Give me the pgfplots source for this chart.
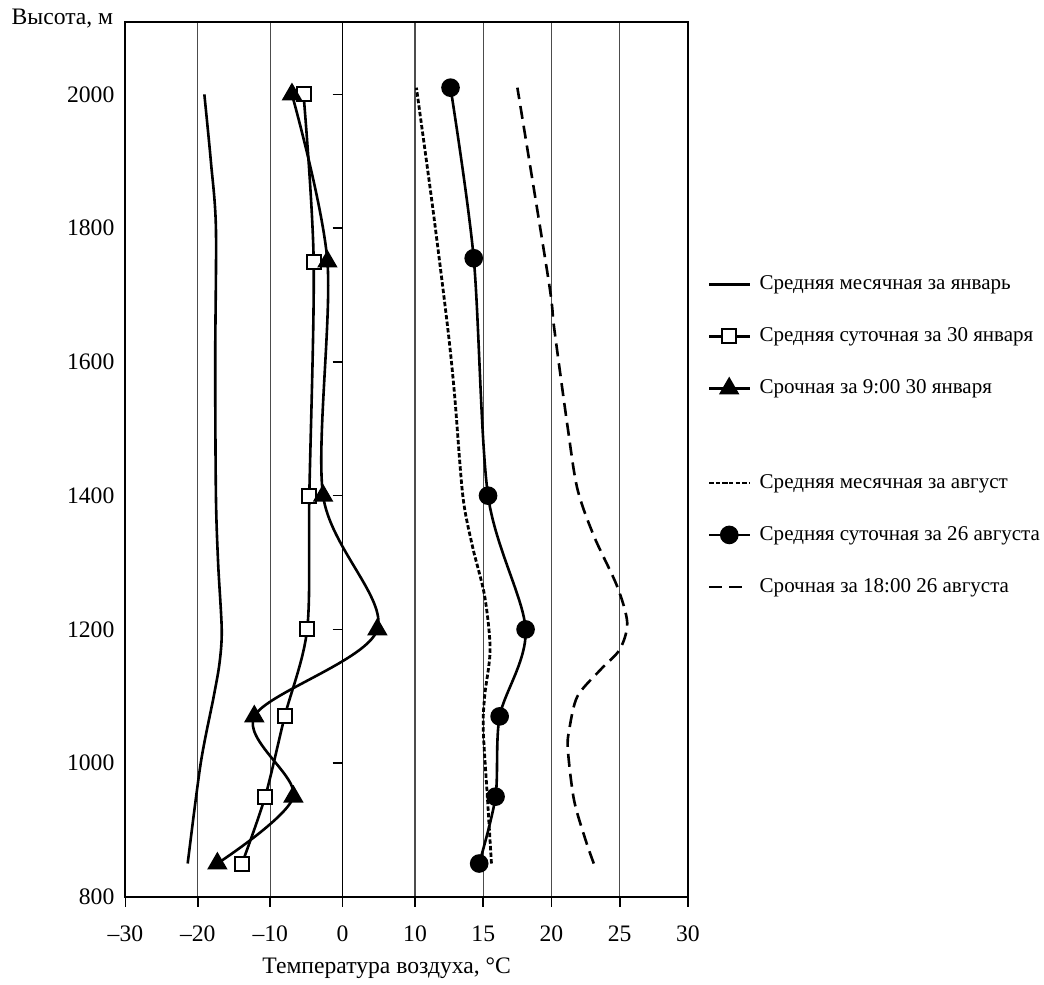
\documentclass[border=0pt]{standalone}
\usepackage{fontspec}
\setmainfont{Liberation Serif}
\usepackage{pgfplots}
\pgfplotsset{compat=1.18}
\usepackage{pgfplotstable}

% январь (шкала 10 градусов на деление)
\pgfplotstableread{
t h
-21.4 850
-19.6 1000
-17.8 1100
-17.0 1150
-16.7 1200
-17.2 1300
-17.5 1400
-17.6 1600
-17.5 1800
-18.2 1900
-19.1 2000
}\janmean
\pgfplotstableread{
t h
-13.9 850
-10.7 950
-8.0 1070
-4.9 1200
-4.6 1400
-4.0 1750
-5.4 2000
}\janday
\pgfplotstableread{
t h
-17.3 850
-6.8 950
-12.2 1070
4.8 1200
-2.7 1400
-2.1 1750
-7.0 2000
}\janterm
% август (шкала 5 градусов на деление)
\pgfplotstableread{
t h
15.6 850
15.3 950
15.0 1050
15.1 1100
15.5 1170
15.1 1250
14.2 1325
13.5 1400
12.9 1550
12.4 1650
11.3 1830
10.1 2010
}\augmean
\pgfplotstableread{
t h
14.7 850
15.9 950
16.2 1070
18.1 1200
15.35 1400
14.3 1755
12.6 2010
}\augday
\pgfplotstableread{
t h
23.1 850
22.5 885
21.65 945
21.2 1020
21.3 1050
21.9 1100
23.6 1140
25.0 1170
25.55 1210
24.8 1265
23.1 1340
21.9 1410
21.2 1500
20.2 1650
19.8 1720
17.5 2010
}\augterm

\newcommand{\fs}{\fontsize{11.8pt}{14pt}\selectfont}
\newcommand{\fl}{\fontsize{10.5pt}{12.5pt}\selectfont}

\pgfplotsset{
  common/.style={
    scale only axis, width=281pt, height=437pt,
    xmin=-30, xmax=47.692, ymin=800, ymax=2108,
    legend cell align=left,
    legend style={draw=none, fill=none, font=\fl, row sep=13.5pt, inner xsep=0pt,
      /tikz/every odd column/.append style={column sep=2.5pt}},
    legend image code/.code={\draw[mark repeat=2,mark phase=2]
      plot coordinates {(0pt,0pt) (10pt,0pt) (20pt,0pt)};},
  },
}

\begin{document}
\begin{tikzpicture}
\begin{axis}[common,
  xtick={-30,-20,-10,0,10,19.423,28.846,38.269,47.692},
  xticklabels={–30,–20,–10,0,10,15,20,25,30},
  ytick={800,1000,...,2000},
  /pgf/number format/1000 sep={},
  /pgf/number format/assume math mode=true,
  tick label style={font=\fs},
  xticklabel style={yshift=-6pt},
  yticklabel style={xshift=3pt},
  xmajorgrids, grid style={black!70, line width=0.6pt},
  tick align=outside, xtick pos=bottom, ytick pos=left,
  major tick length=5pt,
  y tick style={draw=none},
  x tick style={black, line width=0.8pt},
  axis line style={line width=1pt},
  xlabel={Температура воздуха, °C},
  every axis x label/.style={at={(rel axis cs:0.4644,0)}, anchor=base, yshift=-38pt, font=\fs},
  ylabel={Высота, м},
  every axis y label/.style={at={(rel axis cs:0,1)}, anchor=base east, xshift=-2.6pt, yshift=-1pt, font=\fs},
  legend style={at={(rel axis cs:1.0347,0.6407)}, anchor=west},
]
\addplot[black, line width=1.3pt, smooth] table[x=t, y=h] {\janmean};
\addlegendentry{Средняя месячная за январь}
\addplot[black, line width=1.3pt, smooth, mark=square*, mark size=3.5pt,
  mark options={fill=white, line width=1pt}] table[x=t, y=h] {\janday};
\addlegendentry{Средняя суточная за 30 января}
\addplot[black, line width=1.3pt, smooth, mark=triangle*, mark size=4.6pt,
  mark options={fill=black}] table[x=t, y=h] {\janterm};
\addlegendentry{Срочная за 9:00 30 января}
\end{axis}

\begin{axis}[common,
  axis x line=none, axis y line=middle,
  ytick={1000,1200,...,2000}, yticklabels={},
  tick align=outside, major tick length=5pt,
  y axis line style={-, line width=0.8pt},
  ytick style={black, line width=0.8pt},
  legend style={at={(rel axis cs:1.0347,0.4138)}, anchor=west},
]
\addplot[black, line width=1.4pt, smooth, dash pattern=on 2.2pt off 1.1pt]
  table[x expr=10+(\thisrow{t}-10)*1.8846, y=h] {\augmean};
\addlegendentry{Средняя месячная за август}
\addplot[black, line width=1.3pt, smooth, mark=*, mark size=4pt]
  table[x expr=10+(\thisrow{t}-10)*1.8846, y=h] {\augday};
\addlegendentry{Средняя суточная за 26 августа}
\addplot[black, line width=1.3pt, smooth, dash pattern=on 6.5pt off 3.5pt]
  table[x expr=10+(\thisrow{t}-10)*1.8846, y=h] {\augterm};
\addlegendentry{Срочная за 18:00 26 августа}
\end{axis}
% небольшие поля слева и сверху, как в оригинале
\path ([shift={(-2.5pt,1pt)}]current bounding box.north west);
\end{tikzpicture}
\end{document}
